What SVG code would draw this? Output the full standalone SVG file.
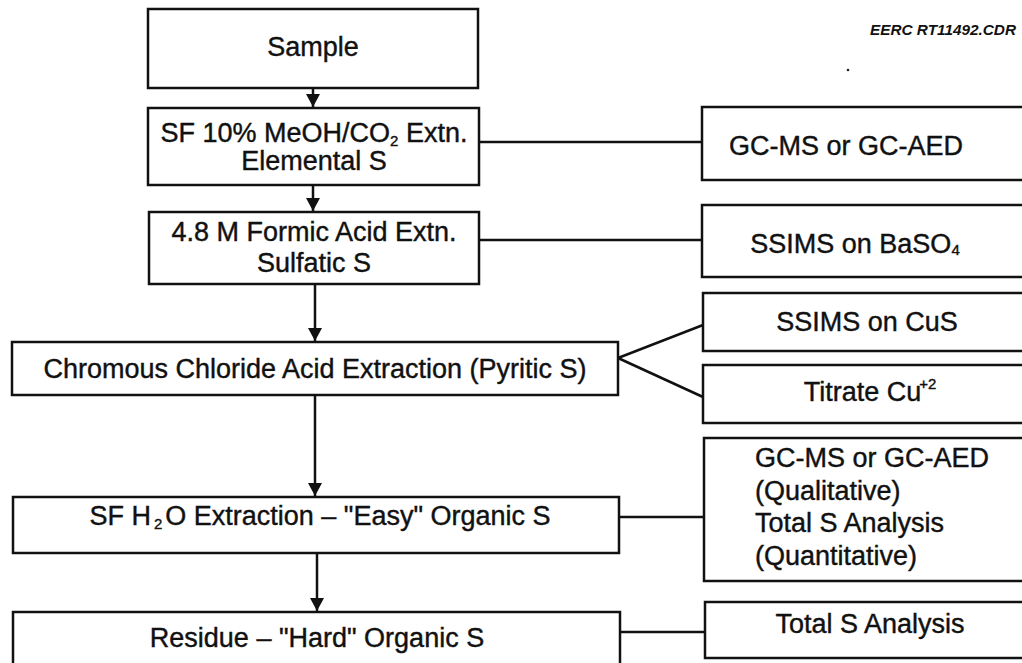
<svg xmlns="http://www.w3.org/2000/svg" width="1022" height="663" viewBox="0 0 1022 663">
<style>
.box{fill:#fff;stroke:#111;stroke-width:2.5}
.ln{stroke:#111;stroke-width:2.5;fill:none}
.t{font-family:"Liberation Sans",Arial,sans-serif;font-size:27px;fill:#111;stroke:#111;stroke-width:0.4;text-anchor:middle}
.tl{font-family:"Liberation Sans",Arial,sans-serif;font-size:27px;fill:#111;stroke:#111;stroke-width:0.4}
.sub{font-size:15px}
.lab{font-family:"Liberation Sans",Arial,sans-serif;font-size:15px;font-weight:bold;font-style:italic;fill:#111}
</style>
<defs>
<marker id="ah" markerWidth="14" markerHeight="14" refX="13" refY="7" orient="auto" markerUnits="userSpaceOnUse" viewBox="0 0 14 14">
<path d="M0,0 L13,7 L0,14 Z" fill="#111"/>
</marker>
</defs>
<rect width="1022" height="663" fill="#fff"/>
<text class="lab" x="870" y="35" textLength="146" lengthAdjust="spacingAndGlyphs">EERC RT11492.CDR</text>
<circle cx="848" cy="70" r="1.3" fill="#222"/>
<g id="connectors">
<line class="ln" x1="313" y1="88" x2="313" y2="107" marker-end="url(#ah)"/>
<line class="ln" x1="313" y1="185" x2="313" y2="211" marker-end="url(#ah)"/>
<line class="ln" x1="315" y1="284" x2="315" y2="341" marker-end="url(#ah)"/>
<line class="ln" x1="315" y1="395" x2="315" y2="496" marker-end="url(#ah)"/>
<line class="ln" x1="317" y1="553" x2="317" y2="611" marker-end="url(#ah)"/>
<line class="ln" x1="479" y1="142" x2="702" y2="142"/>
<line class="ln" x1="479" y1="240" x2="702" y2="240"/>
<line class="ln" x1="618" y1="358" x2="703" y2="325"/>
<line class="ln" x1="618" y1="358" x2="703" y2="397"/>
<line class="ln" x1="619" y1="517" x2="704" y2="517"/>
<line class="ln" x1="620" y1="632" x2="705" y2="632"/>
</g>
<g id="sample">
<rect class="box" x="148" y="9" width="330" height="79"/>
<text class="t" x="313" y="56">Sample</text>
</g>
<g id="sf-meoh">
<rect class="box" x="148" y="108" width="331" height="77"/>
<text class="t" x="314" y="142">SF 10% MeOH/CO<tspan class="sub" dy="4">2</tspan><tspan dy="-4"> Extn.</tspan></text>
<text class="t" x="314" y="170">Elemental S</text>
</g>
<g id="formic">
<rect class="box" x="149" y="212" width="330" height="72"/>
<text class="t" x="314" y="241">4.8 M Formic Acid Extn.</text>
<text class="t" x="314" y="272">Sulfatic S</text>
</g>
<g id="chromous">
<rect class="box" x="12" y="342" width="606" height="53"/>
<text class="t" x="315" y="378">Chromous Chloride Acid Extraction (Pyritic S)</text>
</g>
<g id="sf-h2o">
<rect class="box" x="13" y="497" width="606" height="56"/>
<text class="t" x="320" y="525">SF H<tspan class="sub" dx="3" dy="4">2</tspan><tspan dx="3" dy="-4">O Extraction – "Easy" Organic S</tspan></text>
</g>
<g id="residue">
<rect class="box" x="13" y="612" width="607" height="55"/>
<text class="t" x="317" y="647">Residue – "Hard" Organic S</text>
</g>
<g id="gcms">
<rect class="box" x="702" y="107" width="330" height="73"/>
<text class="t" x="846" y="155">GC-MS or GC-AED</text>
</g>
<g id="ssims-baso4">
<rect class="box" x="702" y="205" width="330" height="72"/>
<text class="t" x="855" y="253">SSIMS on BaSO<tspan class="sub" dy="2">4</tspan></text>
</g>
<g id="ssims-cus">
<rect class="box" x="703" y="293" width="330" height="58"/>
<text class="t" x="867" y="331">SSIMS on CuS</text>
</g>
<g id="titrate">
<rect class="box" x="703" y="365" width="330" height="58"/>
<text class="t" x="870" y="401">Titrate Cu<tspan class="sub" dx="-2" dy="-12">+2</tspan></text>
</g>
<g id="gcms-total">
<rect class="box" x="704" y="438" width="330" height="143"/>
<text class="tl" x="755" y="467">GC-MS or GC-AED</text>
<text class="tl" x="755" y="500">(Qualitative)</text>
<text class="tl" x="755" y="532">Total S Analysis</text>
<text class="tl" x="755" y="565">(Quantitative)</text>
</g>
<g id="total-s">
<rect class="box" x="705" y="602" width="330" height="56"/>
<text class="t" x="870" y="633">Total S Analysis</text>
</g>
</svg>
